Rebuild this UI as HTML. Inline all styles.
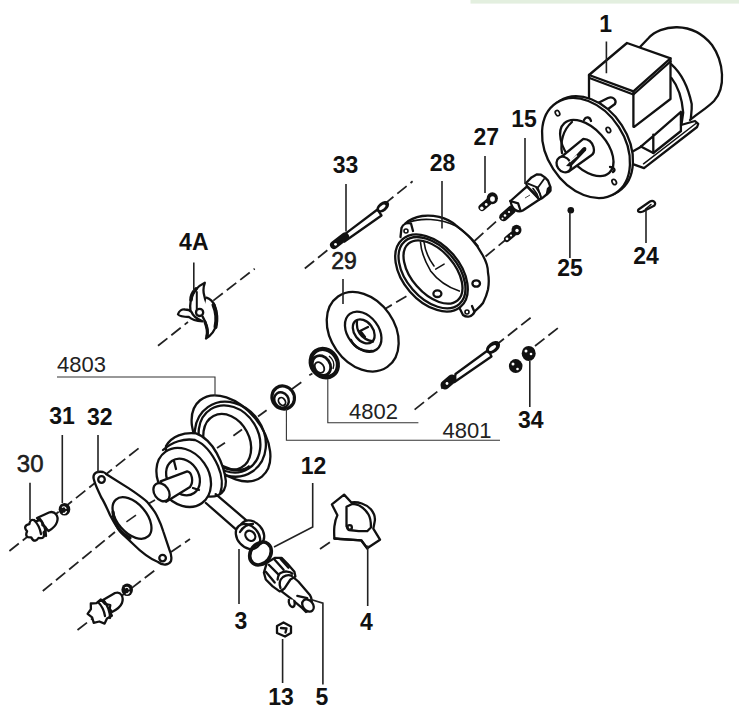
<!DOCTYPE html>
<html><head><meta charset="utf-8">
<style>
html,body{margin:0;padding:0;background:#fff;width:739px;height:711px;overflow:hidden}
svg{display:block}
.b{font-family:"Liberation Sans",sans-serif;font-weight:bold;font-size:23px;fill:#111}
.r{font-family:"Liberation Sans",sans-serif;font-size:22px;fill:#222}
.s{fill:none;stroke:#111;stroke-width:2.3;stroke-linecap:round;stroke-linejoin:round}
.t{fill:none;stroke:#333;stroke-width:1.1}
.d{fill:none;stroke:#222;stroke-width:1.8;stroke-dasharray:12 5}
.l{fill:none;stroke:#222;stroke-width:1.6}
.w{fill:#fff;stroke:#111;stroke-width:2.3;stroke-linejoin:round}
</style></head><body>
<svg width="739" height="711" viewBox="0 0 739 711">
<rect x="470.5" y="0" width="268.5" height="3.6" fill="#e3efdf"/>

<!-- labels -->
<g class="b" text-anchor="middle">
<text x="605.7" y="32">1</text>
<text x="524" y="127">15</text>
<text x="486.3" y="145">27</text>
<text x="345.5" y="172.5">33</text>
<text x="442.5" y="171">28</text>
<text x="570" y="276">25</text>
<text x="646" y="264">24</text>
<text x="193.8" y="250.4">4A</text>

<text x="62" y="423.8">31</text>
<text x="99.7" y="424.5">32</text>
<text x="530.7" y="428">34</text>

<text x="313.6" y="474">12</text>
<text x="240.8" y="629">3</text>
<text x="366.5" y="630">4</text>
<text x="281" y="704.8">13</text>
<text x="322" y="704.8">5</text>
</g>
<g class="r">
<text x="331.2" y="269.4" style="font-size:23px;stroke:#111;stroke-width:0.55">29</text>
<text x="16.8" y="472.3" style="font-size:24px;stroke:#111;stroke-width:0.5">30</text>
<text x="57" y="371.7">4803</text>
<text x="349" y="419">4802</text>
<text x="442.5" y="437.5">4801</text>
</g>

<!-- dashed axes -->
<g class="d">
<path d="M304.8 268.5L412.6 181.3"/>
<path d="M158 345.8L188 322M213.3 300.6L254.7 268.7"/>
<path d="M414.6 409.6L531.5 317"/>
<path d="M535 346L558 328"/>
<path d="M474.5 241L506 212.5"/>
<path d="M485.5 256.5L506 239.5"/>
<path d="M381.5 311L409 294.7"/>
<path d="M258 416.4L266.6 410.2"/>
<path d="M9.4 551L139 448"/>
<path d="M42.8 591L115 532"/>
<path d="M171 552L190 539"/>
<path d="M77.5 630L157.7 568"/>
<path d="M320 549L333 540"/>
<path d="M148 504L155 500"/>
<path d="M292 389L301.3 382.2M309.3 375.3L312.4 373.5"/>
</g>

<!-- motor -->
<g class="s">
<path d="M640 47L648.6 38C660 25 692 20 712 45C724 62 726 88 714 101C706 109 698 113 690 120"/>
<path d="M671.4 64.3C680 72 688 86 691.7 104C692 110 691 115 690.8 119.2M671.4 77.9C677 85 682 98 683.2 112.5L681.5 124.3"/>
<path d="M589 75L627 43L670.5 58.4L633.4 91.4Z" fill="#fff"/>
<path d="M589.5 78L633.4 94.5L670.5 61.5"/>
<path d="M589 75V101M633.4 91.4V126.8M670.5 58.4V99L634.2 126.8"/>
<path d="M630 153L639.7 147.6L654.9 134.6L680.9 111.9M653.3 134.6V153M680.9 111.9V130.3"/>
<path d="M640.8 146.5L653.3 153L681 131M681 125L695 121L698.2 123.8L697.1 127L644 168.2L632.2 163.9"/>
<path d="M643.5 163.8L696.5 123" stroke-width="1.5"/>
<path d="M596 104L608 98C613 96 617 100 615 104L604 112" fill="#fff"/>
</g>
<ellipse class="w" cx="589" cy="146.3" rx="39" ry="54" transform="rotate(-33 589 146.3)"/>
<ellipse class="w" cx="586" cy="148" rx="39" ry="54" transform="rotate(-33 586 148)"/>
<ellipse class="s" cx="586.8" cy="148" rx="19.5" ry="33.5" transform="rotate(-42 586.8 148)"/>
<path class="s" d="M562 153C560 142 563 130 572 122" stroke-width="3"/>
<path d="M584 120C586 116 590 117 591 121M610 167C614 167 616 170 613 172" class="s" stroke-width="1.8"/>
<g fill="#fff" stroke="#111" stroke-width="1.7">
<ellipse cx="557.5" cy="113.2" rx="2" ry="2.8" transform="rotate(-30 557.5 113.2)"/>
<ellipse cx="608.4" cy="130" rx="2" ry="2.8" transform="rotate(-30 608.4 130)"/>
<ellipse cx="614.2" cy="182" rx="2" ry="2.8" transform="rotate(-30 614.2 182)"/>
</g>
<path class="w" stroke-width="2.4" d="M560 158L583.3 138.9C588 139 592 142 593.5 147C594.5 151 593.5 154 591.4 155.2L568 172"/>
<ellipse class="w" cx="563.8" cy="164.5" rx="6.8" ry="8.2" transform="rotate(-35 563.8 164.5)" stroke-width="2.4"/>
<path d="M566 166L582.5 148C584.5 146 587.5 147 586 150.5L571 166.5Z" fill="#111"/>
<path d="M569.5 162L577 155.5" stroke="#fff" stroke-width="1.2"/>

<!-- 15, 27, screws, 25, 24 -->
<g stroke="#111" stroke-linecap="round" fill="none">
<path d="M503.5 217L512 209.5" stroke-width="8.5"/>
<path d="M482 207.5L489 201.5" stroke-width="7"/>
<path d="M507 239L513 234" stroke-width="6"/>
</g>
<g class="s" stroke-width="2.3">
<path d="M510.5 201L523.6 189.3L527 186.5L539.4 199.5L522.8 210.5C518 213 512 210 510.5 201Z" fill="#fff"/>
<path d="M510.2 201L518.1 203.4L520.5 210.5"/>
<path d="M526 183L531.5 177.4L537 174.3L541 174.7L544.9 177.4L548 180.6L550.4 186.9L550.4 190.8L547.2 194L542.5 197.9L539.4 199.5L535 194L527 186Z" fill="#fff"/>
<path d="M528 183.7L537.8 187.7L544.1 179M537.8 187.7L541 197" stroke-width="1.8"/>
<path d="M533 188.5L537 194L538.6 198.7M536.2 187.7L540.2 194L541 198.7" stroke-width="1.6"/>
<path d="M548 189L550 187L550 191L547 194Z" fill="#111" stroke-width="2.5"/>
</g>
<path d="M525 198L530 195" stroke="#444" stroke-width="1"/>
<ellipse cx="492.3" cy="198.3" rx="5.6" ry="6" fill="#111"/>
<ellipse cx="516.5" cy="230" rx="5" ry="5.3" fill="#111"/>
<g fill="#fff">
<ellipse cx="492.5" cy="199" rx="2.4" ry="2.8"/><circle cx="481.8" cy="208.2" r="1.7"/><circle cx="486.2" cy="204.5" r="1.4"/>
<circle cx="517" cy="230.5" r="1.7"/><circle cx="507" cy="238.8" r="1.4"/><circle cx="511" cy="235.5" r="1.1"/>
<circle cx="505" cy="215.5" r="1.3"/><circle cx="509" cy="212" r="1.1"/><circle cx="502.5" cy="218.5" r="1"/>
</g>
<g class="s">
<path d="M638.5 209.5L650 201.5C653 199.5 656.5 202.5 654.5 205.5L643 211.5C639 213 637 211.5 638.5 209.5Z" fill="#fff" stroke-width="2.2"/>
<path d="M645.6 209L651 204.5" stroke-width="1.5"/>
</g>
<circle cx="570.8" cy="210.3" r="3.3" fill="#111"/>

<!-- 33 stud -->
<path class="w" d="M346.5 232.8L377.5 209.5L381.5 215.5L344.5 241.5Z" stroke-width="2.1"/>
<path d="M334 245L345 236.5" stroke="#111" stroke-width="8" stroke-linecap="round"/>
<circle cx="335.5" cy="244.3" r="1.4" fill="#fff"/>
<ellipse cx="382.8" cy="206.8" rx="7.2" ry="4.6" transform="rotate(-38 382.8 206.8)" fill="#111"/>
<ellipse cx="382.3" cy="207.3" rx="3.8" ry="1.7" transform="rotate(-38 382.3 207.3)" fill="#fff"/>
<!-- 28 ring -->
<g class="s">
<path d="M405.3 223.6C410 219 416 217 422.2 216C428 215 433 215.5 439.1 216.9C445 218.5 451 221 456 225.3C462 230 467 234 471.1 238.8C476 244 480 250 483 255.7C486 261 488 267 488 272.6C489 278 489 284 488 289.5C487 294 485 299 483 303C480 307 477 309 474.5 311.4"/>
<path d="M410 222C420 218 440 218 456 226C465 232 472 238 478 246" stroke-width="1.6"/>
</g>
<ellipse class="w" cx="431.5" cy="273" rx="28.5" ry="44.5" transform="rotate(-41 431.5 273)"/>
<ellipse class="s" cx="432" cy="272.7" rx="25.6" ry="41.6" transform="rotate(-41 432 272.7)" stroke-width="1.4"/>
<ellipse class="s" cx="433" cy="272" rx="21.5" ry="37.5" transform="rotate(-41 433 272)" stroke-width="2.2"/>
<g class="s">
<path d="M420.5 242.2C421 250 423 258 430.6 270.9C436 278 445 286 459.3 291.1M424 242C425 250 428 258 434 266" stroke-width="1.6"/>
<path d="M435.7 269.2L444.1 264.1" stroke-width="1.5"/>
<ellipse cx="437.4" cy="293.7" rx="4" ry="3.3"/>
<ellipse cx="476.2" cy="283.5" rx="3.8" ry="3.2"/>
<path d="M400.5 237L401.5 228C403 224 407 222.5 411 223.5L413 231" fill="#fff"/>
<circle cx="406" cy="231" r="2" stroke-width="1.6"/>
<path d="M460 309L463 315C467 318 472 317 474.5 312L472 306" fill="#fff"/>
<circle cx="467" cy="312" r="2" stroke-width="1.6"/>
</g>
<!-- 29 disc -->
<ellipse class="w" cx="362.7" cy="331.7" rx="32" ry="43" transform="rotate(-35 362.7 331.7)"/>
<ellipse class="s" cx="363.2" cy="331.7" rx="15.5" ry="22.3" transform="rotate(-37 363.2 331.7)" stroke-width="2.3"/>
<path class="s" d="M351 340C354 347 362 352 372 351" stroke-width="3"/>
<ellipse class="s" cx="363.7" cy="331.4" rx="9.3" ry="13.3" transform="rotate(-37 363.7 331.4)" stroke-width="2.1"/>
<path class="s" d="M357 320.5C356 330 360 339 373 341.5M360 331L368 327M361.5 332.5L365 337" stroke-width="1.6"/>
<!-- seals -->
<ellipse cx="324.3" cy="363.2" rx="13" ry="14.8" transform="rotate(-35 324.3 363.2)" fill="#fff" stroke="#111" stroke-width="4.2"/>
<ellipse cx="321.5" cy="365.5" rx="8.5" ry="10.5" transform="rotate(-35 321.5 365.5)" fill="none" stroke="#111" stroke-width="2.8"/>
<ellipse cx="319.5" cy="367.5" rx="4.2" ry="5.8" transform="rotate(-35 319.5 367.5)" fill="#fff" stroke="#111" stroke-width="1.8"/>
<path d="M329 356C333 359 335 364 333 369" stroke="#111" stroke-width="1.5" fill="none"/>
<ellipse cx="283.2" cy="397.5" rx="11" ry="11.8" transform="rotate(-35 283.2 397.5)" fill="#fff" stroke="#111" stroke-width="3.2"/>
<ellipse cx="281.5" cy="400" rx="7" ry="8" transform="rotate(-35 281.5 400)" fill="none" stroke="#111" stroke-width="2.5"/>
<ellipse cx="282" cy="401.5" rx="3.2" ry="4.2" transform="rotate(-35 282 401.5)" fill="none" stroke="#111" stroke-width="1.8"/>
<!-- 34 stud and nuts -->
<path class="w" d="M455.5 374L488.3 350L491.5 356.5L454.5 382Z" stroke-width="2.1"/>
<path d="M445 385L452 379" stroke="#111" stroke-width="9" stroke-linecap="round"/>
<circle cx="447" cy="383.5" r="1.4" fill="#fff"/>
<ellipse cx="493" cy="347.5" rx="8" ry="5.2" transform="rotate(-38 493 347.5)" fill="#111"/>
<ellipse cx="492.5" cy="348" rx="4.2" ry="1.8" transform="rotate(-38 492.5 348)" fill="#fff"/>
<ellipse cx="515.7" cy="366.1" rx="6.8" ry="7" fill="#111"/>
<ellipse cx="528.7" cy="353.4" rx="7" ry="7.5" fill="#111"/>
<g fill="#fff"><circle cx="513" cy="364" r="1.5"/><circle cx="517.5" cy="369" r="1.3"/><circle cx="526" cy="351" r="1.5"/><circle cx="531" cy="354" r="1.3"/></g>
<!-- 4A impeller -->
<g class="s" stroke-width="2.6">
<path d="M190.5 312C189.5 304 190.5 297 195 290.5C198 286.5 201 284.5 204.8 282.8C203.3 287 203 292 204.5 296.7C205 300 207 303 207.4 306L205 312" fill="#fff"/>
<path d="M196.8 292V311" stroke-width="2"/>
<path d="M191 300C191 295 193 292 196 289" stroke-width="3.6"/>
<path d="M206.5 297.7C210 299 213 302 214.5 305C217 312 217.5 318 216.5 324.3C215 330 212 335 206 338.5C208 334 207.5 331 207.4 330.2C207 326 205 321 202.5 316.4" fill="#fff"/>
<path d="M213.5 305C216.5 312 217 320 215.5 327" stroke-width="4"/>
<path d="M205 322C207 327 208 332 207 336" stroke-width="3.2"/>
<path d="M189 317C185 317 180 317 178 314.4C179 311 182 309 185 309.5C188 309.5 190 310 191.5 312C193 316 197 319 202.5 321.3C196 321 192 320 189 317Z" fill="#fff"/>
<circle cx="199.6" cy="312.4" r="3.6" fill="#fff"/>
</g>
<!-- casing 4803 -->
<ellipse class="w" cx="231" cy="438.4" rx="31.4" ry="49.1" transform="rotate(-39 231 438.4)"/>
<ellipse class="s" cx="230.3" cy="439.2" rx="33.7" ry="39.2" transform="rotate(-35 230.3 439.2)" stroke-width="2"/>
<ellipse class="s" cx="229.5" cy="439" rx="29" ry="35.2" transform="rotate(-32 229.5 439)" stroke-width="2.2"/>
<ellipse class="s" cx="227.2" cy="441.9" rx="22.2" ry="29.3" transform="rotate(-28 227.2 441.9)"/>
<path d="M222 466C232 471 244 472 250 466" stroke="#111" stroke-width="3" fill="none"/>
<path class="d" d="M217 448L225 442.7M233.4 435.7L242 429.5" style="stroke-dasharray:none"/>
<path class="w" d="M166 446C172 436 184 432 196 433.4C204 436 212 444 216.7 453.1C221 461 225 472 225.9 481.3C226 488 223 493 218.1 495.3C205 500 180 490 166 470Z"/>
<path class="s" d="M163 450C172 442 184 438 195 440C205 444 213 455 218 466C222 475 223 486 220 494" stroke-width="1.6"/>
<ellipse class="w" cx="183.7" cy="477.4" rx="25" ry="31.5" transform="rotate(-35 183.7 477.4)"/>
<ellipse class="s" cx="183" cy="477" rx="15.5" ry="19.5" transform="rotate(-35 183 477)"/>
<path class="w" d="M160.5 481.3L187.2 471.4C192 472 194 482 190 487L166.1 501.7Z"/>
<ellipse class="w" cx="161.5" cy="492.2" rx="7.2" ry="9.8" transform="rotate(-35 161.5 492.2)"/>
<path class="s" d="M174 461L176 469M193 488L199 490" stroke-width="1.8"/>
<!-- gasket 32 -->
<path class="w" stroke-width="2.4" d="M93.5 478C93 473 97 471 103 472C106 473 106 474 106 474L129.3 488.6C137 494 143 498 147.1 501.9C151 507 155 511 157.4 516.7C160 522 162 527 163.3 531.5L169.2 549.2C171 553 172 557 171 561C169 565 163 566 158 562C150 559 140 551 132.3 543.3C126 537 122 534 119 530C114 523 112 519 110.1 515.2C106 506 103 500 101.3 497.5C98 490 95 485 93.5 478Z"/>
<ellipse class="s" cx="132" cy="518" rx="14.5" ry="24.5" transform="rotate(-41 132 518)" stroke-width="2.2"/>
<path d="M113 512C114 524 120 533 130 538" stroke="#111" stroke-width="3.2" fill="none" stroke-linecap="round"/>
<circle class="s" cx="101.5" cy="479.5" r="3.3"/>
<circle class="s" cx="162.6" cy="558.1" r="3.3"/>
<path class="l" d="M126.4 521.9L136 515.2"/>
<!-- knobs, nuts -->
<ellipse cx="64.5" cy="509.3" rx="5.8" ry="6.3" fill="#111"/>
<path d="M62 507.5C64 506 66 507 66 509M66.5 511C66 513 64 514 63 513" stroke="#fff" stroke-width="1.2" fill="none"/>
<ellipse cx="127.2" cy="589.8" rx="5.8" ry="6.3" fill="#111"/>
<path d="M125 588C127 586.5 129 587.5 129 589.5M129.5 591.5C129 593.5 127 594.5 126 593.5" stroke="#fff" stroke-width="1.2" fill="none"/>
<path class="w" d="M37 518L49 512.5C55 510.5 59 516 57 522C55.5 527 52 529 48.5 531Z"/>
<path class="w" stroke-width="2.2" d="M43.6 532.5Q45.6 539.4 38.6 537.9Q34.5 543.8 31.2 537.4Q24.1 537.8 27.1 531.3Q22.3 525.9 29.3 524.2Q30.5 517.1 36.1 521.5Q42.4 518.1 42.5 525.2Q49.1 528.0 43.6 532.5Z"/>
<path class="s" d="M34 520C38 524 40 528 41 534M40 519C44 524 46 529 46 536" stroke-width="1.8"/>
<path class="w" d="M103 600L115 593C121 591 124 597 122 603C120 608 116 610 112 612Z"/>
<path class="w" stroke-width="2.2" d="M111.9 615.7L107.0 618.5L104.6 623.6L99.3 621.5L93.7 622.8L92.1 617.3L87.6 613.9L90.9 609.2L90.8 603.5L96.5 603.2L100.9 599.5L104.8 603.8L110.3 605.0L109.4 610.6Z"/>
<path class="s" d="M98 602C102 606 104 610 105 616M104 601C108 606 110 611 110 618" stroke-width="1.8"/>
<!-- washer 3, o-ring 12, shaft 5, nut 13, impeller 4 -->
<path class="s" d="M215.7 494.1L249 522.5M205.9 503L237.4 530.6"/>
<ellipse class="w" cx="252" cy="533" rx="10.5" ry="14" transform="rotate(-42 252 533)" stroke-width="2.2"/>
<ellipse class="w" cx="248" cy="536.5" rx="10.5" ry="14" transform="rotate(-42 248 536.5)" stroke-width="2.4"/>
<path class="s" d="M240 532C243 527 248 524 253 524" stroke-width="1.5"/>
<ellipse class="s" cx="250.3" cy="535.8" rx="4.5" ry="5.5" transform="rotate(-42 250.3 535.8)" stroke-width="2"/>
<ellipse cx="260.5" cy="553.5" rx="9.8" ry="12.3" transform="rotate(38 260.5 553.5)" fill="none" stroke="#111" stroke-width="3.6"/>
<path class="w" d="M291.4 575.6L298.3 581.5L310.1 595.3C313 600 312 610 306 612L302.3 608.1L290.4 598.2L281.6 591.4Z"/>
<path class="w" stroke-width="2.4" d="M263.9 572.6L266.8 562.8L274.7 557.9L281.6 557.9L287.5 563.8L294.4 571.7L295.4 576.6L290.4 579.5L284.5 588.4L279.6 591.4L272.7 586.4L265.8 579.5Z"/>
<path class="s" stroke-width="2.2" d="M265.8 571.7L274.7 582.5M268.8 564.8L278.6 574.6M274.7 559.8L283.6 569.7M280.6 558.9L288.5 567.7"/>
<path class="s" stroke-width="1.8" d="M277.6 579.5C278 576 279 573 281.6 572.6C284 571 290 571 292.4 573.6M280.5 588C279 584 279.5 580 283 577C286 575 290 575 292 576"/>
<ellipse class="w" cx="308" cy="605.5" rx="5" ry="6.8" transform="rotate(-40 308 605.5)"/>
<path class="w" d="M289 599C288 603 290 607 293 607C295 606 295 603 294 600" stroke-width="2"/>
<path class="s" d="M297.3 595.8L307.2 598.2" stroke-width="1.6"/>
<path class="w" d="M277 626L283.5 622.5L291 626.5L291 633L285 636.5L277 633Z" stroke-width="2.2"/>
<path class="s" d="M281 628L286.5 628.5L285.5 632.5" stroke-width="1.4"/>
<path class="w" stroke-width="2.4" d="M331.9 504.4L344.1 494.6L351.4 502.5C358 501.5 366 504 370.9 509.2C374 513 375.5 518 374.6 522L373.3 528.7L380 539.7L367.2 548.2L361.2 540.3L340.4 539.1L334.4 538.5C334 533 334 530 334.4 526.3C335 521 336 518 337.4 515.3Z"/>
<path class="s" d="M334.4 538.5L361.2 540.3L367.2 548.2" stroke-width="3.2"/>
<path class="s" d="M346.5 526.3V506.8L352.6 503.8C359 504 365 509 368.5 514.5C370.5 518 371 523 370.9 527.5L367.2 531.2H358.7L349 530Z" stroke-width="2.2"/>
<circle class="s" cx="349.6" cy="527.5" r="2.3" stroke-width="1.5"/>
<!-- leader lines -->
<g class="l">
<path d="M606.4 41.6V73.3M525 138V184M485 156V193M346 184V231.5M442 181V228.6M343 279V304M569.9 212.6V258M646 211V243M193.8 262.6V291M62.3 435V503M98 435V473M529.8 361V407M30 482.8V520M312.7 483V527L274 547M239 549V604M367.7 545.5V606M310.1 599.2L322.9 603.2V684.5M282.6 639V683"/>
</g>
<g class="t">
<path d="M57 377H215V396M327.8 379V422.8H418.4M286.4 409V440.3H500"/>
</g>

</svg>
</body></html>
